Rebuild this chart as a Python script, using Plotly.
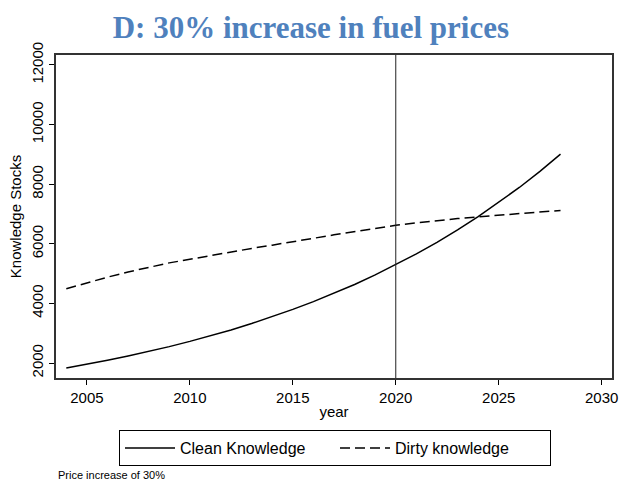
import plotly.graph_objects as go

years = list(range(2004, 2029))
clean_knowledge = [1830, 1955, 2090, 2235, 2385, 2550, 2725, 2910, 3110, 3325,
                   3555, 3800, 4060, 4340, 4635, 4955, 5300, 5660, 6050, 6465,
                   6910, 7385, 7890, 8430, 9010]
dirty_knowledge = [4490, 4690, 4880, 5055, 5215, 5360, 5480, 5610, 5730, 5845,
                   5955, 6060, 6185, 6300, 6410, 6515, 6620, 6705, 6780, 6845,
                   6905, 6960, 7015, 7070, 7120]
x_ticks = [2005, 2010, 2015, 2020, 2025, 2030]
y_ticks = [2000, 4000, 6000, 8000, 10000, 12000]
y_tick_labels = ["2000", "4000", "6000", "8000", "10000", "12000"]
policy_year = 2020

fig = go.Figure()
fig.add_trace(go.Scatter(x=years, y=clean_knowledge, mode="lines",
                         name="Clean Knowledge",
                         line=dict(color="black", width=1.5)))
fig.add_trace(go.Scatter(x=years, y=dirty_knowledge, mode="lines",
                         name="Dirty knowledge",
                         line=dict(color="black", width=1.5, dash="10px,5px")))

fig.add_vline(x=policy_year, line=dict(color="#222222", width=1))

axis_font = dict(family="Liberation Sans, Arial, sans-serif", size=15, color="black")

fig.update_layout(
    width=631, height=485,
    margin=dict(l=56, r=19, t=55, b=107, autoexpand=False),
    paper_bgcolor="white", plot_bgcolor="white",
    title=dict(text="<b>D: 30% increase in fuel prices</b>",
               font=dict(family="Liberation Serif, Times New Roman, serif", size=31,
                         color="#4F81BD"),
               x=0.4927, xanchor="center", xref="container",
               y=1 - 27 / 485, yanchor="middle", yref="container"),
    xaxis=dict(range=[2003.5, 2030.5], tickvals=x_ticks, ticks="outside",
               ticklen=5, tickcolor="black", showgrid=False, zeroline=False,
               showline=True, linecolor="#333333", linewidth=1.5, mirror=True,
               tickfont=axis_font, automargin=False,
               title=dict(text="year", font=axis_font, standoff=2)),
    yaxis=dict(range=[1497, 12335], tickvals=y_ticks, ticktext=y_tick_labels,
               ticks="outside",
               ticklen=5, tickcolor="black", showgrid=False, zeroline=False,
               showline=True, linecolor="#333333", linewidth=1.5, mirror=True,
               tickangle=-90, tickfont=axis_font, automargin=False,
               title=dict(text="Knowledge Stocks", font=axis_font, standoff=4)),
    legend=dict(orientation="h", x=(335 - 56) / 556, xanchor="center",
                y=-(430 - 378) / 323, yanchor="top",
                bordercolor="black", borderwidth=1,
                font=dict(family="Liberation Sans, Arial, sans-serif", size=16,
                          color="black"),
                bgcolor="white",
                entrywidth=150, entrywidthmode="pixels", itemwidth=50),
    showlegend=True,
)

fig.add_annotation(text="Price increase of 30%", xref="paper", yref="paper",
                   x=0.0, xanchor="left", y=-(475 - 378) / 323, yanchor="middle",
                   showarrow=False,
                   font=dict(family="Liberation Sans, Arial, sans-serif", size=11,
                             color="black"))

fig.write_html("out.html",
               config={"displayModeBar": False},
               post_script="document.body.style.margin='0';"
                           "document.body.style.overflow='hidden';")
